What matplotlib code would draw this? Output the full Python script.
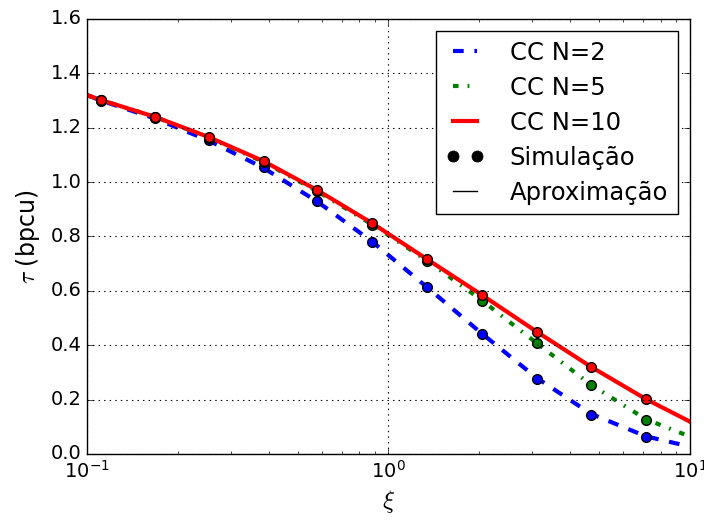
import matplotlib
matplotlib.use('Agg')
import matplotlib.pyplot as plt
from matplotlib.lines import Line2D

# simulated points
xi_sim = [0.111, 0.168, 0.254, 0.385, 0.581, 0.885, 1.34, 2.04, 3.10, 4.69, 7.14]
sim_n2 = [1.300, 1.236, 1.155, 1.057, 0.930, 0.781, 0.614, 0.441, 0.277, 0.145, 0.063]
sim_n5 = [1.302, 1.240, 1.163, 1.074, 0.966, 0.843, 0.710, 0.563, 0.407, 0.253, 0.126]
sim_n10 = [1.302, 1.240, 1.165, 1.077, 0.970, 0.848, 0.717, 0.585, 0.450, 0.321, 0.202]

# approximation curves
xi_apx = [0.1, 0.111, 0.168, 0.254, 0.385, 0.581, 0.885, 1.34, 2.04, 3.10, 4.69, 7.14, 10.0]
apx_n2 = [1.320, 1.300, 1.234, 1.152, 1.052, 0.928, 0.780, 0.614, 0.443, 0.280, 0.148, 0.065, 0.027]
apx_n5 = [1.320, 1.302, 1.240, 1.163, 1.074, 0.966, 0.843, 0.712, 0.565, 0.408, 0.255, 0.128, 0.064]
apx_n10 = [1.320, 1.302, 1.240, 1.165, 1.077, 0.970, 0.848, 0.717, 0.585, 0.450, 0.321, 0.202, 0.119]

plt.style.use('classic')

fig = plt.figure(figsize=(7.04, 5.23), dpi=100, facecolor='white')
ax = fig.add_axes([0.1236, 0.132, 0.8564, 0.8318])

ax.plot(xi_apx, apx_n2, color='blue', lw=3, dashes=(7.7, 7.7), label='CC N=2')
ax.plot(xi_apx, apx_n5, color='green', lw=3, dashes=(4, 6.5, 1.3, 6.5), label='CC N=5')
ax.plot(xi_apx, apx_n10, color='red', lw=3, ls='-', label='CC N=10')

ax.plot(xi_sim, sim_n2, 'o', color='blue', ms=7, mec='black', mew=1)
ax.plot(xi_sim, sim_n5, 'o', color='green', ms=7, mec='black', mew=1)
ax.plot(xi_sim, sim_n10, 'o', color='red', ms=7, mec='black', mew=1)

ax.set_xscale('log')
ax.set_xlim(0.1, 10)
ax.set_ylim(0, 1.6)
ax.grid(True, color='black', ls=':', lw=0.8)
ax.tick_params(labelsize=14)
ax.set_xlabel(r'$\xi$', fontsize=18)
ax.set_ylabel(r'$\tau$ (bpcu)', fontsize=17, labelpad=6)

handles, labels = ax.get_legend_handles_labels()
handles.append(Line2D([], [], ls='none', marker='o', color='black', ms=8))
labels.append('Simulação')
handles.append(Line2D([], [], ls='-', color='black', lw=1))
labels.append('Aproximação')
ax.legend(handles, labels, loc='upper right', fontsize=17.5, numpoints=2,
          fancybox=False, frameon=True, handlelength=1.6, handletextpad=1.05,
          labelspacing=0.45)

fig.savefig('out.png', dpi=100, facecolor='white')
